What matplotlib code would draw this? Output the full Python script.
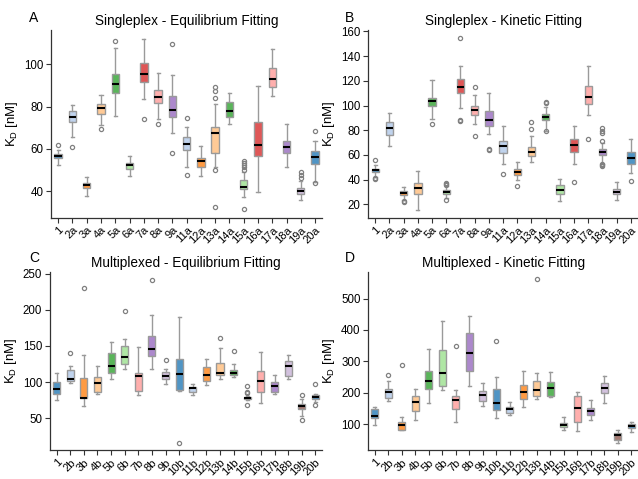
import matplotlib
matplotlib.use("Agg")
import matplotlib.pyplot as plt
import numpy as np

plt.rcParams['font.family'] = ['Liberation Sans', 'DejaVu Sans']
plt.rcParams['mathtext.fontset'] = 'custom'
plt.rcParams['mathtext.rm'] = 'Liberation Sans'
plt.rcParams['mathtext.it'] = 'Liberation Sans:italic'

TAB = ['#1f77b4', '#aec7e8', '#ff7f0e', '#ffbb78', '#2ca02c', '#98df8a',
       '#d62728', '#ff9896', '#9467bd', '#c5b0d5', '#8c564b']

# ---------------- Panel A: Singleplex - Equilibrium Fitting ----------------
labels_a = ['1', '2a', '3a', '4a', '5a', '6a', '7a', '8a', '9a', '11a', '12a',
            '13a', '14a', '15a', '16a', '17a', '18a', '19a', '20a']
colors_a = [0, 1, 2, 3, 4, 5, 6, 7, 8, 1, 2, 3, 4, 5, 6, 7, 8, 9, 0]
q1_a = [55.6, 72.7, 41.6, 76.6, 86.2, 50.6, 91.7, 81.6, 75.0, 59.7, 51.4,
        58.1, 75.0, 41.0, 56.9, 89.0, 58.0, 38.9, 53.0]
med_a = [56.7, 75.2, 43.0, 79.2, 90.6, 52.3, 95.2, 84.4, 78.4, 62.3, 54.2,
         67.5, 78.0, 42.2, 61.7, 93.1, 61.0, 40.2, 56.3]
q3_a = [57.7, 77.8, 44.2, 81.4, 95.5, 53.4, 100.5, 87.8, 84.8, 65.5, 55.8,
        70.6, 82.2, 45.6, 72.8, 98.0, 63.9, 41.6, 58.9]
lo_a = [52.3, 65.6, 37.8, 71.4, 75.5, 47.5, 83.4, 74.0, 67.5, 51.4, 47.2,
        51.4, 71.6, 37.3, 39.8, 85.0, 51.4, 35.8, 44.5]
hi_a = [59.7, 80.6, 46.7, 85.6, 107.5, 56.7, 111.9, 95.8, 94.8, 70.2, 61.2,
        81.0, 86.2, 49.0, 89.7, 107.0, 71.9, 44.8, 63.9]
fl_a = [[61.7], [61.0], [], [69.2], [111.0], [], [74.0], [71.6], [109.7, 58.3],
        [74.4, 47.8], [], [89.0, 87.5, 84.2, 50.3, 32.7], [],
        [50.3, 51.5, 52.5, 53.5, 54.5, 31.9], [], [], [], [49.0, 47.7, 46.3],
        [68.6, 43.8]]

# ---------------- Panel B: Singleplex - Kinetic Fitting ----------------
labels_b = labels_a
colors_b = colors_a
q1_b = [45.9, 76.2, 27.6, 28.2, 99.3, 28.3, 109.8, 92.7, 83.8, 61.4, 43.8,
        59.2, 88.1, 28.4, 62.2, 101.4, 60.0, 28.4, 53.0]
med_b = [47.7, 82.0, 29.2, 33.1, 104.0, 30.0, 114.6, 96.5, 88.1, 67.0, 46.5,
         62.7, 90.5, 31.4, 68.4, 107.0, 62.4, 30.3, 57.6]
q3_b = [49.0, 86.8, 30.5, 37.0, 106.5, 31.6, 121.3, 99.7, 95.9, 71.4, 48.6,
        66.8, 93.5, 35.4, 73.2, 115.7, 64.6, 32.4, 62.2]
lo_b = [42.5, 67.6, 23.7, 15.7, 89.3, 25.2, 97.8, 85.1, 77.3, 53.0, 39.5,
        54.0, 79.2, 23.0, 52.4, 92.2, 52.4, 23.5, 45.4]
hi_b = [52.0, 94.0, 34.0, 46.8, 120.6, 35.0, 131.9, 108.9, 110.3, 83.2, 54.0,
        75.4, 98.9, 40.3, 83.2, 131.6, 69.7, 37.8, 73.2]
fl_b = [[56.2, 41.6, 40.8], [], [22.4, 21.6], [], [85.1],
        [37.3, 36.2, 35.5, 23.8], [154.5, 88.0, 87.5], [115.1, 75.4],
        [64.9, 63.8], [44.9], [35.1], [87.0, 80.8], [102.7, 102.2, 79.0], [],
        [37.8], [73.0], [81.9, 79.7, 77.8, 71.6, 53.0, 51.6, 50.8], [], [39.2]]

# ---------------- Panel C: Multiplexed - Equilibrium Fitting ----------------
labels_c = ['1', '2b', '3b', '4b', '5b', '6b', '7b', '8b', '9b', '10b', '11b',
            '12b', '13b', '14b', '15b', '16b', '17b', '18b', '19b', '20b']
colors_c = [0, 1, 2, 3, 4, 5, 7, 8, 9, 0, 1, 2, 3, 4, 5, 7, 8, 9, 10, 0]
q1_c = [83.2, 101.1, 77.5, 86.7, 112.0, 125.5, 87.6, 136.0, 104.1, 89.3, 86.7,
        101.1, 109.8, 109.8, 76.6, 87.1, 86.7, 109.0, 62.7, 77.1]
med_c = [90.2, 103.7, 78.8, 99.3, 122.0, 134.3, 108.1, 146.0, 108.5, 111.1,
         91.9, 110.3, 112.9, 113.3, 77.9, 101.5, 94.5, 122.0, 67.0, 79.7]
q3_c = [100.2, 116.8, 105.5, 107.2, 140.8, 150.0, 112.9, 164.0, 114.2, 132.1,
        93.7, 120.7, 126.9, 117.2, 79.7, 115.9, 99.8, 128.6, 70.5, 81.9]
lo_c = [75.3, 99.3, 67.5, 84.1, 104.6, 118.6, 81.9, 117.7, 98.0, 88.4, 82.8,
        96.7, 105.0, 106.8, 75.5, 71.0, 83.6, 104.6, 53.9, 73.1]
hi_c = [113.3, 122.9, 136.9, 122.5, 155.2, 160.0, 148.3, 193.2, 117.7, 190.6,
        97.6, 132.1, 147.8, 125.5, 80.5, 141.3, 110.3, 137.3, 77.1, 83.2]
fl_c = [[], [140.4], [230.3], [], [], [197.6], [], [240.4], [131.2], [16.4],
        [], [], [161.4], [142.6], [95.0, 86.0, 85.0, 68.3], [], [], [],
        [82.3, 47.8], [97.2, 68.3]]

# ---------------- Panel D: Multiplexed - Kinetic Fitting ----------------
labels_d = labels_c
colors_d = colors_c
q1_d = [120.2, 182.8, 83.8, 142.4, 212.1, 222.2, 147.5, 268.7, 175.8, 145.5,
        137.4, 181.8, 191.9, 188.9, 91.9, 107.1, 131.3, 200.0, 50.5, 89.9]
med_d = [128.3, 202.0, 97.0, 172.7, 239.4, 263.6, 176.8, 328.3, 192.9, 168.7,
         148.5, 203.0, 210.1, 215.2, 98.0, 151.5, 142.4, 216.2, 67.7, 96.0]
q3_d = [147.5, 211.1, 109.0, 190.9, 268.7, 336.4, 190.9, 388.9, 207.1, 214.1,
        156.6, 226.3, 237.4, 233.3, 106.1, 190.9, 152.5, 232.3, 72.7, 102.0]
lo_d = [99.0, 174.7, 80.8, 115.2, 168.7, 208.1, 107.1, 223.2, 157.6, 121.2,
        129.3, 154.5, 179.8, 187.9, 80.8, 78.8, 115.2, 167.7, 41.4, 76.8]
hi_d = [155.6, 237.4, 124.2, 212.1, 340.4, 427.3, 208.1, 445.5, 232.3, 249.5,
        172.7, 269.7, 262.6, 265.7, 123.2, 203.0, 176.8, 254.5, 81.8, 109.1]
fl_d = [[], [256.6], [287.9], [], [], [], [350.5], [], [], [364.6], [], [],
        [560.6], [], [], [], [], [], [], []]

panels = [
    ('A', 'Singleplex - Equilibrium Fitting', labels_a, colors_a, q1_a, med_a, q3_a, lo_a, hi_a, fl_a,
     (27.5, 116), [40, 60, 80, 100], [0.080, 0.545, 0.425, 0.392], (0.046, 0.962)),
    ('B', 'Singleplex - Kinetic Fitting', labels_b, colors_b, q1_b, med_b, q3_b, lo_b, hi_b, fl_b,
     (9, 161), [20, 40, 60, 80, 100, 120, 140, 160], [0.577, 0.545, 0.423, 0.392], (0.540, 0.962)),
    ('C', 'Multiplexed - Equilibrium Fitting', labels_c, colors_c, q1_c, med_c, q3_c, lo_c, hi_c, fl_c,
     (6, 252), [50, 100, 150, 200, 250], [0.078, 0.060, 0.427, 0.372], (0.046, 0.462)),
    ('D', 'Multiplexed - Kinetic Fitting', labels_d, colors_d, q1_d, med_d, q3_d, lo_d, hi_d, fl_d,
     (18, 584), [100, 200, 300, 400, 500], [0.577, 0.060, 0.423, 0.372], (0.540, 0.462)),
]

fig = plt.figure(figsize=(6.38, 4.79), dpi=100)
edge = '#9a9a9a'
for letter, title, labels, cols, q1, med, q3, lo, hi, fl, ylim, yt, rect, lpos in panels:
    ax = fig.add_axes(rect)
    stats = []
    for i in range(len(labels)):
        stats.append(dict(q1=q1[i], med=med[i], q3=q3[i], whislo=lo[i],
                          whishi=hi[i], fliers=fl[i], label=labels[i]))
    pos = np.arange(len(labels))
    bp = ax.bxp(stats, positions=pos, widths=0.52, patch_artist=True,
                showfliers=True, capwidths=0.22,
                boxprops=dict(edgecolor=edge, linewidth=1.0),
                whiskerprops=dict(color=edge, linewidth=1.0),
                capprops=dict(color=edge, linewidth=1.0),
                medianprops=dict(color='black', linewidth=1.5),
                flierprops=dict(marker='o', markersize=3, markerfacecolor='none',
                                markeredgecolor='#808080', markeredgewidth=0.9))
    for patch, c in zip(bp['boxes'], cols):
        r, g, b = matplotlib.colors.to_rgb(TAB[c])
        a = 0.78
        patch.set_facecolor((1 - a + a * r, 1 - a + a * g, 1 - a + a * b))
    ax.set_xlim(-0.5, len(labels) - 0.5)
    ax.set_ylim(*ylim)
    ax.set_yticks(yt)
    ax.set_xticks(pos)
    ax.set_xticklabels(labels, rotation=45, ha='right', rotation_mode='anchor')
    ax.tick_params(axis='both', labelsize=8.3, length=3.5, width=0.8, color='#333333', pad=2)
    ax.tick_params(axis='x', pad=1.5, labelsize=8)
    for s in ['top', 'right']:
        ax.spines[s].set_visible(False)
    for s in ['left', 'bottom']:
        ax.spines[s].set_linewidth(0.9)
        ax.spines[s].set_color('#333333')
    ax.set_ylabel(r'K$_\mathrm{D}$ [nM]', fontsize=9.5, labelpad=3)
    ax.set_title(title, fontsize=9.8, pad=4)
    fig.text(lpos[0], lpos[1], letter, fontsize=10, va='center', ha='left')

fig.savefig('out.png', dpi=100)
